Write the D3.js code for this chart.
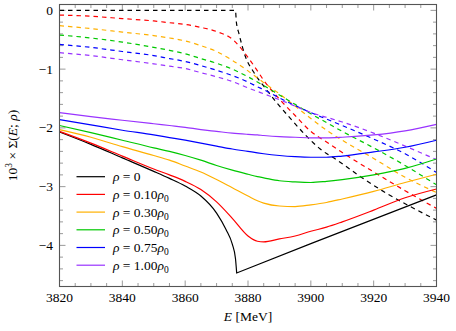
<!DOCTYPE html>
<html><head><meta charset="utf-8">
<script src="https://cdn.jsdelivr.net/npm/d3@7"></script>
<style>body{margin:0;background:#fff}svg{display:block}</style>
</head><body><svg id="c" width="456" height="331" font-family="'Liberation Serif', 'DejaVu Serif', serif"></svg>
<script>
// ---- data ----
const xTicks = [3820, 3840, 3860, 3880, 3900, 3920, 3940];
const yTicks = [0, -1, -2, -3, -4];
const yTickLabels = ["0", "\u22121", "\u22122", "\u22123", "\u22124"];
const densityLabels = ["0", "0.10", "0.30", "0.50", "0.75", "1.00"];
const colors = ["#000000", "#ff0000", "#ffb000", "#00c800", "#0000ff", "#9933ff"];

// common energy grid (MeV) for the in-medium curves
const E = [3820, 3830, 3840, 3850, 3855, 3860, 3865, 3870, 3875, 3880, 3883, 3885, 3890, 3895, 3900, 3905, 3910, 3920, 3930, 3940];

// solid curves
const solidRed    = [-2.06, -2.26, -2.48, -2.70, -2.80, -2.91, -3.05, -3.26, -3.54, -3.84, -3.93, -3.94, -3.89, -3.84, -3.76, -3.69, -3.60, -3.40, -3.19, -3.04];
const solidOrange = [-2.03, -2.16, -2.32, -2.47, -2.55, -2.65, -2.75, -2.88, -3.02, -3.16, -3.24, -3.28, -3.33, -3.34, -3.31, -3.27, -3.21, -3.08, -2.93, -2.79];
const solidGreen  = [-1.96, -2.08, -2.21, -2.34, -2.40, -2.47, -2.55, -2.64, -2.72, -2.79, -2.83, -2.85, -2.90, -2.92, -2.93, -2.91, -2.88, -2.80, -2.69, -2.53];
const solidBlue   = [-1.86, -1.95, -2.04, -2.12, -2.165, -2.21, -2.26, -2.31, -2.36, -2.40, -2.425, -2.44, -2.47, -2.49, -2.50, -2.50, -2.48, -2.41, -2.33, -2.21];
const solidPurple = [-1.74, -1.81, -1.87, -1.93, -1.96, -1.99, -2.03, -2.06, -2.09, -2.11, -2.12, -2.13, -2.15, -2.16, -2.17, -2.17, -2.16, -2.12, -2.05, -1.94];

// dashed curves
const dashRed    = [-0.08, -0.10, -0.14, -0.18, -0.21, -0.24, -0.29, -0.36, -0.49, -0.80, -1.03, -1.19, -1.51, -1.79, -2.06, -2.24, -2.42, -2.75, -3.07, -3.37];
const dashOrange = [-0.26, -0.31, -0.37, -0.43, -0.47, -0.52, -0.60, -0.70, -0.85, -1.03, -1.15, -1.23, -1.42, -1.63, -1.84, -2.04, -2.21, -2.52, -2.84, -3.10];
const dashGreen  = [-0.42, -0.47, -0.54, -0.63, -0.68, -0.74, -0.82, -0.90, -1.00, -1.13, -1.22, -1.28, -1.44, -1.60, -1.76, -1.91, -2.06, -2.34, -2.64, -2.97];
const dashBlue   = [-0.58, -0.63, -0.70, -0.77, -0.82, -0.87, -0.94, -1.02, -1.11, -1.22, -1.30, -1.35, -1.49, -1.62, -1.74, -1.85, -1.96, -2.19, -2.44, -2.76];
const dashPurple = [-0.72, -0.77, -0.84, -0.91, -0.95, -0.99, -1.06, -1.13, -1.21, -1.32, -1.38, -1.42, -1.52, -1.63, -1.74, -1.82, -1.90, -2.09, -2.31, -2.54];

// vacuum (rho = 0) curves, own energy grid because of the threshold cusp
const E0     = [3820, 3830, 3840, 3850, 3855, 3860, 3865, 3870, 3873, 3875, 3876, 3876.4, 3900, 3940];
const solid0 = [-2.07, -2.28, -2.51, -2.74, -2.86, -2.99, -3.16, -3.45, -3.73, -3.98, -4.22, -4.47, -3.97, -3.14];
const E0d    = [3820, 3876, 3876.3, 3877.1, 3879.2, 3881.8, 3885.6, 3889.3, 3893.5, 3898.8, 3903, 3908.4, 3915.8, 3924.3, 3931.7, 3940];
const dash0  = [0, 0, -0.20, -0.39, -0.79, -1.05, -1.33, -1.58, -1.84, -2.15, -2.36, -2.55, -2.83, -3.12, -3.34, -3.57];

// ---- drawing ----
const svg = d3.select("#c");
const L = 59.5, R = 436.5, T = 4.5, B = 286.5;
const x = d3.scaleLinear().domain([3820, 3940]).range([L, R]);
const y = d3.scaleLinear().domain([-4.7, 0.1]).range([B, T]);

svg.append("defs").append("clipPath").attr("id", "clip")
  .append("rect").attr("x", L).attr("y", T).attr("width", R - L).attr("height", B - T);

// ticks (inward, all four sides)
const tickG = svg.append("g").attr("stroke", "#808080").attr("stroke-width", 0.8);
const xMinor = d3.range(3825, 3940, 5).filter(v => v % 20 !== 0);
const yMinor = d3.range(-46, 1, 2).map(v => v / 10).filter(v => Math.abs(v - Math.round(v)) > 1e-6);
xTicks.forEach(v => {
  tickG.append("line").attr("x1", x(v)).attr("x2", x(v)).attr("y1", B).attr("y2", B - 6);
  tickG.append("line").attr("x1", x(v)).attr("x2", x(v)).attr("y1", T).attr("y2", T + 6);
});
xMinor.forEach(v => {
  tickG.append("line").attr("x1", x(v)).attr("x2", x(v)).attr("y1", B).attr("y2", B - 3.5);
  tickG.append("line").attr("x1", x(v)).attr("x2", x(v)).attr("y1", T).attr("y2", T + 3.5);
});
yTicks.forEach(v => {
  tickG.append("line").attr("y1", y(v)).attr("y2", y(v)).attr("x1", L).attr("x2", L + 6);
  tickG.append("line").attr("y1", y(v)).attr("y2", y(v)).attr("x1", R).attr("x2", R - 6);
});
yMinor.forEach(v => {
  tickG.append("line").attr("y1", y(v)).attr("y2", y(v)).attr("x1", L).attr("x2", L + 3.5);
  tickG.append("line").attr("y1", y(v)).attr("y2", y(v)).attr("x1", R).attr("x2", R - 3.5);
});

// curves
const plot = svg.append("g").attr("clip-path", "url(#clip)");
const smooth = d3.line().x(d => x(d[0])).y(d => y(d[1])).curve(d3.curveMonotoneX);
const straight = d3.line().x(d => x(d[0])).y(d => y(d[1]));
const zip = (xs, ys) => xs.map((v, i) => [v, ys[i]]);
const dashed = [zip(E0d, dash0), zip(E, dashRed), zip(E, dashOrange), zip(E, dashGreen), zip(E, dashBlue), zip(E, dashPurple)];
const solids = [zip(E, solidRed), zip(E, solidOrange), zip(E, solidGreen), zip(E, solidBlue), zip(E, solidPurple)];

dashed.forEach((d, i) => {
  plot.append("path").attr("d", smooth(d)).attr("fill", "none")
    .attr("stroke", colors[i]).attr("stroke-width", 1.2).attr("stroke-dasharray", "4.5,4");
});
// vacuum solid: smooth branch below threshold, straight branch above
const v0 = zip(E0, solid0);
const cusp = solid0.indexOf(d3.min(solid0));
plot.append("path").attr("d", smooth(v0.slice(0, cusp + 1)) + straight(v0.slice(cusp)).replace(/^M/, "L"))
  .attr("fill", "none").attr("stroke", colors[0]).attr("stroke-width", 1.2).attr("stroke-linejoin", "miter");
solids.forEach((d, i) => {
  plot.append("path").attr("d", smooth(d)).attr("fill", "none")
    .attr("stroke", colors[i + 1]).attr("stroke-width", 1.2);
});

// frame
svg.append("rect").attr("x", L).attr("y", T).attr("width", R - L).attr("height", B - T)
  .attr("fill", "none").attr("stroke", "#555").attr("stroke-width", 1.1);

// tick labels
const fs = 13.5;
xTicks.forEach(v => {
  svg.append("text").attr("x", x(v)).attr("y", 301.5).attr("text-anchor", "middle")
    .attr("font-size", fs).text(v);
});
yTicks.forEach((v, i) => {
  svg.append("text").attr("x", 53).attr("y", y(v) + 4.5).attr("text-anchor", "end")
    .attr("font-size", fs).text(yTickLabels[i]);
});

// axis labels
const xl = svg.append("text").attr("x", (L + R) / 2).attr("y", 321).attr("text-anchor", "middle").attr("font-size", fs);
xl.append("tspan").attr("font-style", "italic").text("E");
xl.append("tspan").text(" [MeV]");

const yl = svg.append("text").attr("transform", `translate(17,${(T + B) / 2}) rotate(-90)`)
  .attr("text-anchor", "middle").attr("font-size", fs);
yl.append("tspan").text("10");
yl.append("tspan").attr("dy", -5).attr("font-size", 9.5).text("3");
yl.append("tspan").attr("dy", 5).text(" \u00d7 \u03a3(");
yl.append("tspan").attr("font-style", "italic").text("E");
yl.append("tspan").text("; ");
yl.append("tspan").attr("font-style", "italic").text("\u03c1");
yl.append("tspan").text(")");

// legend
densityLabels.forEach((lab, i) => {
  const yy = 176.7 + i * 17.7;
  svg.append("line").attr("x1", 76.5).attr("x2", 105).attr("y1", yy).attr("y2", yy)
    .attr("stroke", colors[i]).attr("stroke-width", 1.2);
  const t = svg.append("text").attr("x", 113).attr("y", yy + 4.5).attr("font-size", fs);
  t.append("tspan").attr("font-style", "italic").text("\u03c1");
  t.append("tspan").text(" = " + lab);
  if (i > 0) {
    t.append("tspan").attr("font-style", "italic").text("\u03c1");
    t.append("tspan").attr("dy", 3).attr("font-size", 9.5).text("0");
  }
});
</script></body></html>
